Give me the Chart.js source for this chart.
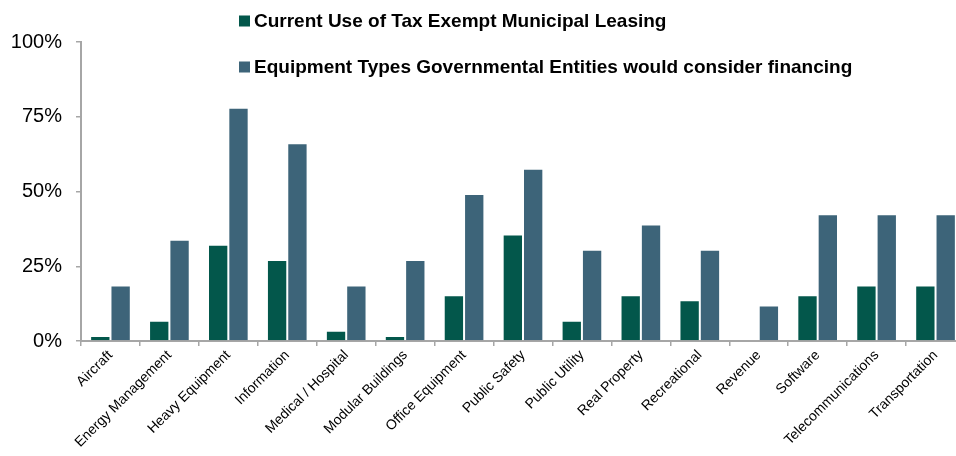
<!DOCTYPE html>
<html>
<head>
<meta charset="utf-8">
<script src="https://cdn.jsdelivr.net/npm/chart.js@4/dist/chart.umd.min.js"></script>
<style>
  html, body { margin: 0; padding: 0; background: #fff; overflow: hidden; }
  #wrap { position: relative; width: 966px; height: 456px; }
</style>
</head>
<body>
<div id="wrap"><canvas id="leasingChart"></canvas></div>
<script>
const categories = ['Aircraft', 'Energy Management', 'Heavy Equipment', 'Information', 'Medical / Hospital',
    'Modular Buildings', 'Office Equipment', 'Public Safety', 'Public Utility', 'Real Property',
    'Recreational', 'Revenue', 'Software', 'Telecommunications', 'Transportation'];
const currentUse = [1.7, 6.8, 32.2, 27.1, 3.4, 1.7, 15.3, 35.6, 6.8, 15.3, 13.6, 0, 15.3, 18.6, 18.6];
const wouldConsider = [18.6, 33.9, 78.0, 66.1, 18.6, 27.1, 49.2, 57.6, 30.5, 39.0, 30.5, 11.9, 42.4, 42.4, 42.4];
const seriesNames = ['Current Use of Tax Exempt Municipal Leasing',
    'Equipment Types Governmental Entities would consider financing'];
const yTicks = [0, 25, 50, 75, 100];

const font = '"Liberation Sans", Arial, sans-serif';

// legend sits over the top of the plot, stacked in two rows
const overlayLegend = {
    id: 'overlayLegend',
    afterDraw(chart) {
        const ctx = chart.ctx;
        ctx.save();
        ctx.font = 'bold 19px ' + font;
        ctx.textBaseline = 'middle';
        chart.data.datasets.forEach((ds, i) => {
            const y = 21 + i * 46;
            ctx.fillStyle = ds.backgroundColor;
            ctx.fillRect(239, y - 5.5, 11, 11);
            ctx.fillStyle = '#000';
            ctx.fillText(ds.label, 254, y + 1);
        });
        ctx.restore();
    }
};

new Chart(document.getElementById('leasingChart'), {
    type: 'bar',
    data: {
        labels: categories,
        datasets: [{
            label: seriesNames[0],
            data: currentUse,
            backgroundColor: '#03574B',
            borderColor: 'rgba(255,255,255,0.25)',
            borderWidth: 1,
            categoryPercentage: 0.69,
            barPercentage: 1
        }, {
            label: seriesNames[1],
            data: wouldConsider,
            backgroundColor: '#3D6479',
            borderColor: 'rgba(255,255,255,0.25)',
            borderWidth: 1,
            categoryPercentage: 0.69,
            barPercentage: 1
        }]
    },
    options: {
        responsive: true,
        maintainAspectRatio: false,
        animation: false,
        layout: { padding: { top: 42, right: 1, left: 0, bottom: 0 } },
        scales: {
            x: {
                grid: { drawOnChartArea: false, drawTicks: true, tickLength: 5, color: '#A6A6A6', lineWidth: 1.5 },
                border: { color: '#A6A6A6', width: 2 },
                ticks: {
                    color: '#000',
                    minRotation: 45,
                    maxRotation: 45,
                    autoSkip: false,
                    padding: 1,
                    font: { family: font, size: 14 }
                },
                afterFit(scale) { scale.height = 115; }
            },
            y: {
                min: 0,
                max: 100,
                afterBuildTicks(scale) { scale.ticks = yTicks.map(v => ({ value: v })); },
                grid: { drawOnChartArea: false, drawTicks: true, tickLength: 5, color: '#A6A6A6', lineWidth: 1.5 },
                border: { color: '#A6A6A6', width: 2 },
                ticks: {
                    color: '#000',
                    padding: 14,
                    font: { family: font, size: 20 },
                    callback: v => v + '%'
                },
                afterFit(scale) { scale.width = 81; }
            }
        },
        plugins: {
            legend: { display: false },
            tooltip: { enabled: false }
        }
    },
    plugins: [overlayLegend]
});
</script>
</body>
</html>
